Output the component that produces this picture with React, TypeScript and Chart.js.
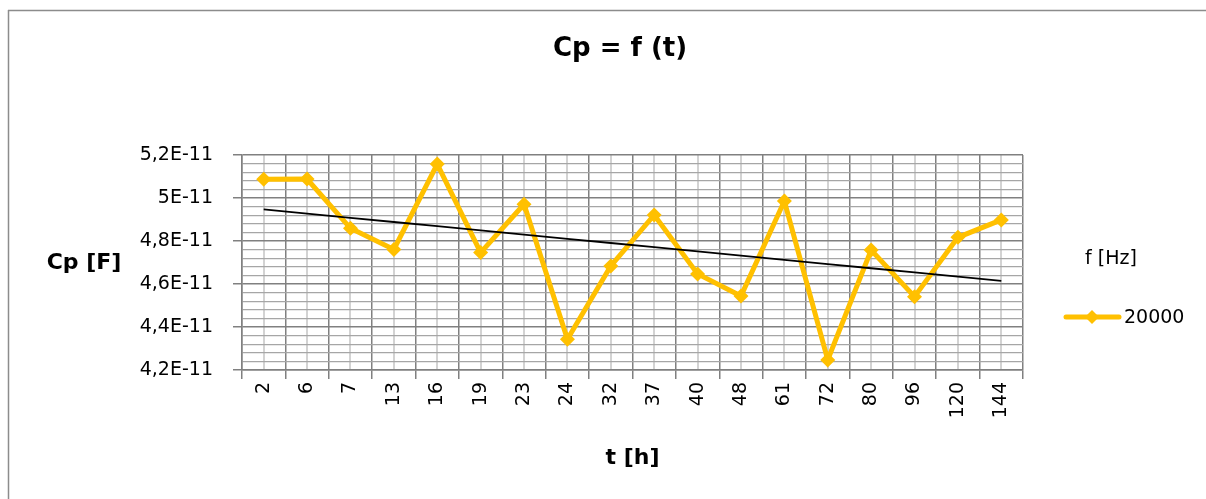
import React, { useEffect, useRef } from 'react';
import { Chart, registerables } from 'chart.js';

Chart.register(...registerables);

// ---- data ----
const CATEGORIES = ['2', '6', '7', '13', '16', '19', '23', '24', '32', '37', '40', '48', '61', '72', '80', '96', '120', '144'];
const CP_20000 = [
  5.087e-11, 5.088e-11, 4.859e-11, 4.761e-11, 5.158e-11, 4.746e-11, 4.971e-11, 4.343e-11, 4.684e-11,
  4.921e-11, 4.647e-11, 4.544e-11, 4.986e-11, 4.247e-11, 4.758e-11, 4.541e-11, 4.817e-11, 4.898e-11,
];
const Y_TICK_VALUES = [4.2e-11, 4.4e-11, 4.6e-11, 4.8e-11, 5.0e-11, 5.2e-11];
const Y_TICK_LABELS = ['4,2E-11', '4,4E-11', '4,6E-11', '4,8E-11', '5E-11', '5,2E-11'];
const MINOR_PER_MAJOR = 5;
const SERIES_NAME = '20000';
const LEGEND_TITLE = 'f [Hz]';
const CHART_TITLE = 'Cp = f (t)';
const X_TITLE = 't [h]';
const Y_TITLE = 'Cp [F]';

// linear trend (least squares over category index)
function linearTrend(values: number[]): number[] {
  const n = values.length;
  const mx = (n - 1) / 2;
  const my = values.reduce((a, b) => a + b, 0) / n;
  let num = 0;
  let den = 0;
  values.forEach((v, i) => {
    num += (i - mx) * (v - my);
    den += (i - mx) * (i - mx);
  });
  const slope = num / den;
  return values.map((_, i) => my + slope * (i - mx));
}
const TREND = linearTrend(CP_20000);

// ---- styles ----
const GOLD = '#FFC000';
const MAJOR_GRID = '#808080';
const MINOR_H_GRID = '#a6a6a6';
const MINOR_V_GRID = '#c4c4c4';
const FONT = 'DejaVu Sans';

const decorPlugin = {
  id: 'decor',
  beforeDraw(chart: any) {
    const { ctx, chartArea, scales } = chart;
    const x = scales.x;
    ctx.save();
    ctx.strokeStyle = MINOR_V_GRID;
    ctx.lineWidth = 1.5;
    for (let i = 0; i < CATEGORIES.length; i++) {
      const px = Math.round(x.getPixelForValue(i));
      ctx.beginPath();
      ctx.moveTo(px, chartArea.top);
      ctx.lineTo(px, chartArea.bottom);
      ctx.stroke();
    }
    ctx.restore();
  },
  afterDraw(chart: any) {
    const { ctx, chartArea } = chart;
    ctx.save();
    // outer frame (left and top visible)
    ctx.strokeStyle = '#8c8c8c';
    ctx.lineWidth = 1.5;
    ctx.beginPath();
    ctx.moveTo(8.5, 10);
    ctx.lineTo(8.5, 499);
    ctx.stroke();
    ctx.beginPath();
    ctx.moveTo(8, 10.5);
    ctx.lineTo(1206, 10.5);
    ctx.stroke();

    ctx.fillStyle = '#000';
    ctx.textBaseline = 'middle';
    ctx.textAlign = 'center';
    ctx.font = `bold 26px "${FONT}"`;
    ctx.fillText(CHART_TITLE, 620, 49);

    ctx.font = `bold 22px "${FONT}"`;
    ctx.fillText(Y_TITLE, 84, 263);
    ctx.fillText(X_TITLE, (chartArea.left + chartArea.right) / 2, 458);

    // legend
    ctx.font = `19px "${FONT}"`;
    ctx.fillText(LEGEND_TITLE, 1111, 259);
    ctx.strokeStyle = GOLD;
    ctx.lineWidth = 5;
    ctx.lineCap = 'round';
    ctx.beginPath();
    ctx.moveTo(1066, 317);
    ctx.lineTo(1119, 317);
    ctx.stroke();
    ctx.fillStyle = GOLD;
    ctx.beginPath();
    ctx.moveTo(1092, 310);
    ctx.lineTo(1099, 317);
    ctx.lineTo(1092, 324);
    ctx.lineTo(1085, 317);
    ctx.closePath();
    ctx.fill();
    ctx.fillStyle = '#000';
    ctx.textAlign = 'left';
    ctx.fillText(SERIES_NAME, 1124, 318);
    ctx.restore();
  },
};

export default function App() {
  const ref = useRef<HTMLCanvasElement | null>(null);

  useEffect(() => {
    if (!ref.current) return;
    const isMajor = (i: number) => i % MINOR_PER_MAJOR === 0;
    const chart = new Chart(ref.current, {
      type: 'line',
      data: {
        labels: CATEGORIES,
        datasets: [
          {
            label: 'trend',
            data: TREND,
            borderColor: '#000',
            borderWidth: 1.8,
            pointRadius: 0,
            fill: false,
            order: 0,
          },
          {
            label: SERIES_NAME,
            data: CP_20000,
            borderColor: GOLD,
            backgroundColor: GOLD,
            borderWidth: 5,
            pointStyle: 'rectRot',
            pointRadius: 7.5,
            pointBorderWidth: 0,
            pointBackgroundColor: GOLD,
            tension: 0,
            fill: false,
            order: 1,
          },
        ],
      },
      options: {
        animation: false,
        responsive: false,
        devicePixelRatio: 1,
        layout: { padding: { left: 0, top: 155, right: 183, bottom: 0 } },
        plugins: { legend: { display: false }, tooltip: { enabled: false }, title: { display: false } },
        scales: {
          x: {
            type: 'category',
            offset: true,
            grid: { offset: true, color: MAJOR_GRID, tickColor: MAJOR_GRID, tickLength: 9, lineWidth: 1.5 },
            border: { color: MAJOR_GRID, width: 1.5 },
            ticks: {
              autoSkip: false,
              minRotation: 90,
              maxRotation: 90,
              padding: 3,
              color: '#000',
              font: { family: FONT, size: 19 },
            },
            afterFit: (s: any) => {
              s.height = 129;
            },
          },
          y: {
            type: 'linear',
            min: Y_TICK_VALUES[0],
            max: Y_TICK_VALUES[Y_TICK_VALUES.length - 1],
            afterBuildTicks: (s: any) => {
              const ticks: { value: number }[] = [];
              for (let m = 0; m < Y_TICK_VALUES.length; m++) {
                ticks.push({ value: Y_TICK_VALUES[m] });
                if (m < Y_TICK_VALUES.length - 1) {
                  const step = (Y_TICK_VALUES[m + 1] - Y_TICK_VALUES[m]) / MINOR_PER_MAJOR;
                  for (let k = 1; k < MINOR_PER_MAJOR; k++) ticks.push({ value: Y_TICK_VALUES[m] + k * step });
                }
              }
              s.ticks = ticks;
            },
            ticks: {
              autoSkip: false,
              padding: 20,
              color: '#000',
              font: { family: FONT, size: 19 },
              callback: (_v: any, i: number) => (isMajor(i) ? Y_TICK_LABELS[i / MINOR_PER_MAJOR] : ''),
            },
            grid: {
              color: (c: any) => (isMajor(c.index) ? MAJOR_GRID : MINOR_H_GRID),
              tickColor: (c: any) => (isMajor(c.index) ? MAJOR_GRID : 'rgba(0,0,0,0)'),
              tickLength: 9,
              lineWidth: (c: any) => (isMajor(c.index) ? 1.5 : 1.2),
            },
            border: { color: MAJOR_GRID, width: 1.5 },
            afterFit: (s: any) => {
              s.width = 242;
            },
          },
        },
      },
      plugins: [decorPlugin],
    });
    return () => chart.destroy();
  }, []);

  return (
    <div style={{ position: 'fixed', left: 0, top: 0, width: 1206, height: 499, background: '#fff', overflow: 'hidden' }}>
      <canvas ref={ref} width={1206} height={499} style={{ display: 'block', width: 1206, height: 499 }} />
    </div>
  );
}
